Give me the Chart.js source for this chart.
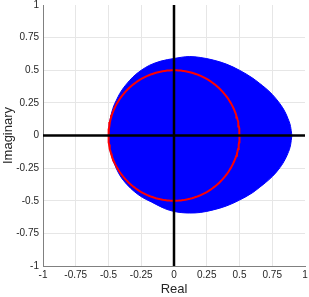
<!DOCTYPE html>
<html><head><meta charset="utf-8">
<script src="https://cdn.jsdelivr.net/npm/chart.js@4/dist/chart.umd.min.js"></script>
<style>html,body{margin:0;padding:0;background:#fff}#wrap{width:309px;height:297px}</style>
</head><body><div id="wrap"><canvas id="c" width="309" height="297"></canvas></div>
<script>
// Boundary of the blue region
const upperX = [-0.5,-0.498,-0.49,-0.466,-0.44,-0.414,-0.37,-0.313,-0.25,-0.185,-0.1,0,0.12,0.2,0.3,0.4,0.5,0.6,0.65,0.7,0.75,0.8,0.84,0.87,0.89,0.9];
const upperY = [0,0.05,0.11,0.209,0.27,0.322,0.385,0.449,0.50,0.539,0.57,0.59,0.605,0.598,0.578,0.547,0.50,0.44,0.402,0.362,0.315,0.255,0.195,0.13,0.068,0];
const lowerX = [-0.5,-0.496,-0.478,-0.45,-0.414,-0.36,-0.30,-0.24,-0.173,-0.071,0,0.12,0.2,0.3,0.4,0.5,0.6,0.65,0.7,0.75,0.8,0.84,0.87,0.89,0.9];
const lowerY = [0,-0.06,-0.151,-0.23,-0.304,-0.375,-0.432,-0.475,-0.509,-0.56,-0.582,-0.594,-0.59,-0.57,-0.54,-0.495,-0.438,-0.4,-0.36,-0.315,-0.258,-0.198,-0.135,-0.072,0];
// Red reference circle
const circleCenter = [0, 0];
const circleRadius = 0.5;
const circleSegments = 180;
// Axis ticks
const tickValues = [-1,-0.75,-0.5,-0.25,0,0.25,0.5,0.75,1];
const tickLabels = ['-1','-0.75','-0.5','-0.25','0','0.25','0.5','0.75','1'];

const toPts = (xs, ys) => xs.map((x, i) => ({x, y: ys[i]}));
const circlePts = [];
for (let i = 0; i <= circleSegments; i++) {
  const t = 2 * Math.PI * i / circleSegments;
  circlePts.push({x: circleCenter[0] + circleRadius * Math.cos(t), y: circleCenter[1] + circleRadius * Math.sin(t)});
}
const labelFor = v => { const i = tickValues.findIndex(t => Math.abs(t - v) < 1e-9); return i >= 0 ? tickLabels[i] : ''; };
const FONT = "'Liberation Sans', Arial, Helvetica, sans-serif";
const gridColor = c => (Math.abs(c.tick.value) === 1 ? 'rgba(0,0,0,0)' : '#e6e6e6');

new Chart(document.getElementById('c'), {
  type: 'line',
  data: {
    datasets: [
      {data: [{x:-1,y:0},{x:1,y:0}], borderColor:'#000', borderWidth:2.5, pointRadius:0, fill:false, order:0},
      {data: [{x:0,y:-1},{x:0,y:1}], borderColor:'#000', borderWidth:2.5, pointRadius:0, fill:false, order:0},
      {data: circlePts, borderColor:'#ff0000', borderWidth:2, pointRadius:0, fill:false, order:1},
      {data: toPts(upperX, upperY), borderColor:'#0000ff', backgroundColor:'#0000ff', borderWidth:1, pointRadius:0, fill:'origin', cubicInterpolationMode:'monotone', order:2},
      {data: toPts(lowerX, lowerY), borderColor:'#0000ff', backgroundColor:'#0000ff', borderWidth:1, pointRadius:0, fill:'origin', cubicInterpolationMode:'monotone', order:2}
    ]
  },
  options: {
    responsive: false,
    animation: false,
    layout: {padding: {top: 5, right: 4, left: 0, bottom: 0}},
    plugins: {legend: {display:false}, tooltip: {enabled:false}},
    elements: {line: {tension: 0}},
    scales: {
      x: {
        type: 'linear', min: -1, max: 1,
        afterBuildTicks: s => { s.ticks = tickValues.map(v => ({value: v})); },
        afterFit: s => { s.height = 31; s.paddingLeft = 0; s.paddingRight = 0; },
        ticks: {callback: v => labelFor(v), color:'#262626', font:{family:FONT, size:10, lineHeight:1}, padding:4, maxRotation:0, autoSkip:false},
        grid: {color: gridColor, drawTicks:false, lineWidth:1},
        border: {color:'#808080', width:1},
        title: {display:true, text:'Real', color:'#262626', font:{family:FONT, size:13}, padding:{top:0,bottom:0}}
      },
      y: {
        type: 'linear', min: -1, max: 1,
        afterBuildTicks: s => { s.ticks = tickValues.map(v => ({value: v})); },
        afterFit: s => { s.width = 43; s.paddingTop = 0; s.paddingBottom = 0; },
        ticks: {callback: v => labelFor(v), color:'#262626', font:{family:FONT, size:10, lineHeight:1}, padding:4, autoSkip:false},
        grid: {color: gridColor, drawTicks:false, lineWidth:1},
        border: {color:'#808080', width:1},
        title: {display:true, text:'Imaginary', color:'#262626', font:{family:FONT, size:13}, padding:{top:1,bottom:0}}
      }
    }
  }
});
</script></body></html>
